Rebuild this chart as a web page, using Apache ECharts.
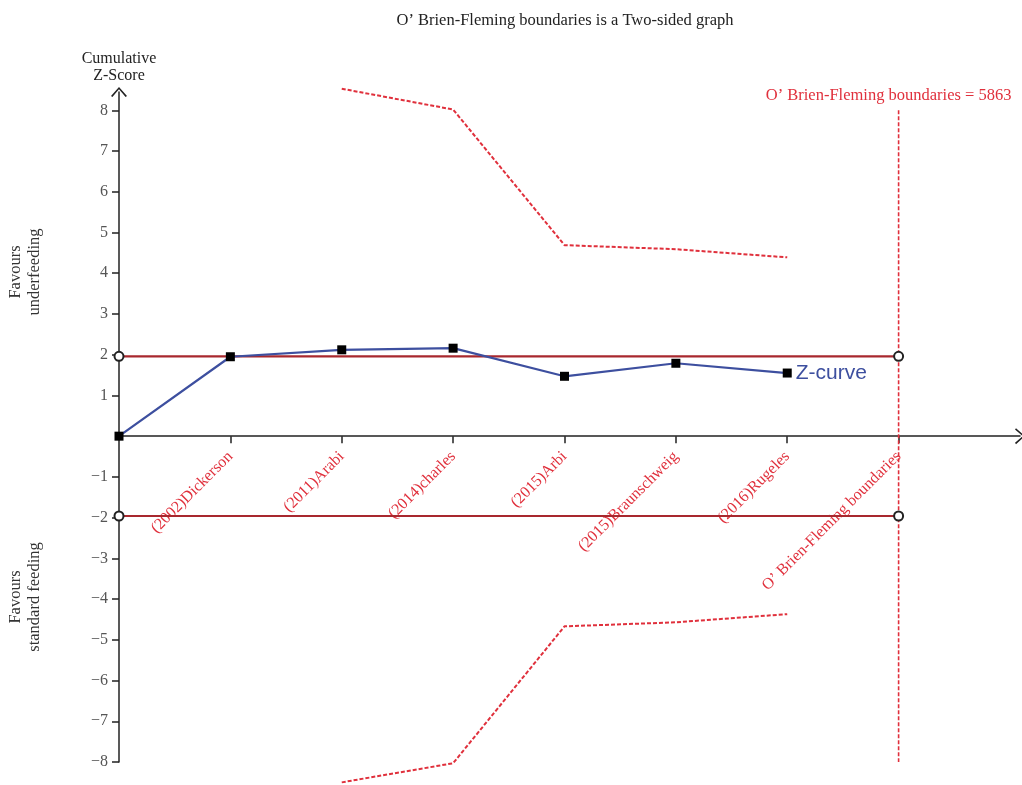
<!DOCTYPE html>
<html>
<head>
<meta charset="utf-8">
<script src="https://cdn.jsdelivr.net/npm/echarts@6/dist/echarts.min.js"></script>
<style>
html,body{margin:0;padding:0;background:#fff;}
#chart{width:1022px;height:785px;}
</style>
</head>
<body>
<div id="chart"></div>
<script>
// ---- data ----
const studyNames = ['(2002)Dickerson', '(2011)Arabi', '(2014)charles', '(2015)Arbi', '(2015)Braunschweig', '(2016)Rugeles', 'O\u2019 Brien-Fleming boundaries'];
const studyPos = [1, 2, 3, 4, 5, 6, 7];
const zCurveX = [0, 1, 2, 3, 4, 5, 6];
const zCurveValues = [0, 1.95, 2.12, 2.16, 1.47, 1.79, 1.55];
const boundX = [2, 3, 4, 5, 6];
const upperBoundValues = [8.53, 8.02, 4.69, 4.59, 4.39];
const lowerBoundValues = [-8.5, -8.03, -4.67, -4.57, -4.37];
const conventionalZ = 1.96;
const requiredInfoPos = 7;
const yTicks = [-8, -7, -6, -5, -4, -3, -2, -1, 1, 2, 3, 4, 5, 6, 7, 8];
const titleText = 'O\u2019 Brien-Fleming boundaries is a Two-sided graph';
const boundaryLabel = 'O\u2019 Brien-Fleming boundaries = 5863';

// ---- layout ----
const Y_MIN = -8, Y_MAX = 8.45, X_MAX = 8.09;
const GRID = {left: 119, right: 2, top: 92, bottom: 23};
const gridHeight = 785 - GRID.top - GRID.bottom;
const xAxisOffset = -gridHeight * (0 - Y_MIN) / (Y_MAX - Y_MIN);

const serif = "'Liberation Serif', 'Times New Roman', serif";
const chevron = 'path://M0,9 L8,0 L16,9 L14.6,10 L8,2.3 L1.4,10 Z';

const chart = echarts.init(document.getElementById('chart'), null, {renderer: 'canvas'});

const zData = zCurveX.map((x, i) => {
  const item = {value: [x, zCurveValues[i]]};
  if (i === zCurveX.length - 1) {
    item.label = {show: true, position: 'right', distance: 4, formatter: 'Z-curve',
      color: '#3d4f9f', fontSize: 21, fontFamily: "'Liberation Sans', Arial, sans-serif"};
  }
  return item;
});

const option = {
  backgroundColor: '#fff',
  animation: false,
  grid: Object.assign({containLabel: false, outerBoundsMode: 'none'}, GRID),
  graphic: [
    {type: 'text', x: 565, y: 21, style: {text: titleText, font: "16.5px " + serif, fill: '#222', align: 'center', verticalAlign: 'middle'}},
    {type: 'text', x: 25.5, y: 272, rotation: Math.PI / 2, style: {text: 'Favours\nunderfeeding', font: "16.5px " + serif, fill: '#333', align: 'center', verticalAlign: 'middle', lineHeight: 19}},
    {type: 'text', x: 25.5, y: 597, rotation: Math.PI / 2, style: {text: 'Favours\nstandard feeding', font: "16.5px " + serif, fill: '#333', align: 'center', verticalAlign: 'middle', lineHeight: 19}}
  ],
  xAxis: {
    type: 'value', min: 0, max: X_MAX, position: 'bottom', offset: xAxisOffset,
    axisLine: {show: true, onZero: false, symbol: ['none', chevron], symbolSize: [16, 10], lineStyle: {color: '#222', width: 1.5}},
    axisTick: {show: true, customValues: studyPos, length: 7, lineStyle: {color: '#222', width: 1.5}},
    axisLabel: {show: true, customValues: studyPos, rotate: 45, margin: 18,
      formatter: v => studyNames[studyPos.indexOf(Math.round(v))] || '',
      color: '#e0303c', fontSize: 16, fontFamily: serif},
    splitLine: {show: false}
  },
  yAxis: {
    type: 'value', min: Y_MIN, max: Y_MAX,
    name: 'Cumulative\nZ-Score', nameLocation: 'end', nameGap: 8,
    nameTextStyle: {color: '#222', fontSize: 16, fontFamily: serif, lineHeight: 17, align: 'center'},
    axisLine: {show: true, onZero: false, symbol: ['none', chevron], symbolSize: [16, 10], lineStyle: {color: '#222', width: 1.5}},
    axisTick: {show: true, customValues: yTicks, length: 7, lineStyle: {color: '#222', width: 1.5}},
    axisLabel: {show: true, customValues: yTicks, margin: 11,
      formatter: v => (v < 0 ? '\u2212' + Math.abs(v) : String(v)),
      color: '#555', fontSize: 16, fontFamily: serif},
    splitLine: {show: false}
  },
  series: [
    {
      type: 'line', name: 'upper2', data: [[0, conventionalZ], [requiredInfoPos, conventionalZ]],
      symbol: 'emptyCircle', symbolSize: 9, showSymbol: true,
      itemStyle: {color: '#222', borderWidth: 1.3},
      lineStyle: {color: '#a8282e', width: 2.2}, z: 3, silent: true
    },
    {
      type: 'line', name: 'lower2', data: [[0, -conventionalZ], [requiredInfoPos, -conventionalZ]],
      symbol: 'emptyCircle', symbolSize: 9, showSymbol: true,
      itemStyle: {color: '#222', borderWidth: 1.3},
      lineStyle: {color: '#a8282e', width: 2.2}, z: 3, silent: true
    },
    {
      type: 'line', name: 'ris', clip: false,
      data: [
        {value: [requiredInfoPos, 8], label: {show: true, position: 'top', distance: 6, offset: [-10, 0], formatter: boundaryLabel, color: '#e0303c', fontSize: 16.5, fontFamily: serif}},
        {value: [requiredInfoPos, -8]}
      ],
      symbol: 'circle', symbolSize: 0.01, showSymbol: true,
      itemStyle: {color: 'rgba(0,0,0,0)'},
      lineStyle: {color: '#e0303c', width: 1.6, type: [4, 2]}, z: 2
    },
    {
      type: 'line', name: 'upperBound', clip: false,
      data: boundX.map((x, i) => [x, upperBoundValues[i]]),
      symbol: 'none', lineStyle: {color: '#e0303c', width: 2, type: [4, 2]}, z: 2
    },
    {
      type: 'line', name: 'lowerBound', clip: false,
      data: boundX.map((x, i) => [x, lowerBoundValues[i]]),
      symbol: 'none', lineStyle: {color: '#e0303c', width: 2, type: [4, 2]}, z: 2
    },
    {
      type: 'line', name: 'Z-curve', clip: false,
      data: zData,
      symbol: 'rect', symbolSize: 9, showSymbol: true,
      itemStyle: {color: '#000'},
      lineStyle: {color: '#3d4f9f', width: 2.2}, z: 5
    }
  ]
};
chart.setOption(option);
</script>
</body>
</html>
